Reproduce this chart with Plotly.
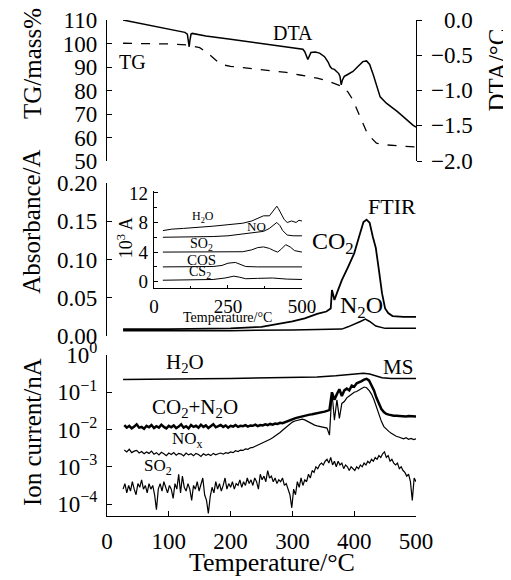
import plotly.graph_objects as go

FONT = "Liberation Serif, Times New Roman, serif"

# ---------------- TG / DTA (top panel) ----------------
T_tg = [26, 60, 100, 129, 140, 150, 160, 172, 180, 188, 200, 231, 260, 290, 312,
        340, 361, 375, 382, 390, 398, 406, 414, 420, 426, 436, 445, 460, 480, 500]
tg = [100.1, 100.0, 99.8, 99.4, 98.9, 98.2, 96.5, 93.8, 92.1, 90.9, 90.3, 89.4, 88.6, 87.7, 86.6,
      85.3, 83.7, 82.5, 81.6, 79.3, 76.0, 71.0, 66.0, 62.5, 60.3, 57.6, 57.0, 56.6, 56.3, 56.0]

T_dta = [26, 60, 100, 126, 130, 132, 133, 134, 136, 138, 160, 200, 250, 300, 317, 320, 323, 325,
         327, 330, 337, 344, 352, 358, 361, 364, 368, 372, 375, 377, 379, 381, 384, 388, 398, 406,
         414, 420, 425, 431, 437, 442, 452, 470, 495, 500]
dta = [0.0, -0.06, -0.13, -0.175, -0.2, -0.3, -0.38, -0.3, -0.2, -0.19, -0.226, -0.274, -0.334,
       -0.394, -0.415, -0.45, -0.53, -0.56, -0.52, -0.46, -0.455, -0.47, -0.52, -0.6, -0.66, -0.69,
       -0.7, -0.73, -0.76, -0.8, -0.92, -0.85, -0.8, -0.78, -0.73, -0.66, -0.59, -0.58, -0.63, -0.78,
       -0.95, -1.09, -1.18, -1.3, -1.49, -1.52]

# ---------------- FTIR (middle panel) ----------------
T_co2 = [26, 100, 200, 250, 300, 320, 340, 355, 362, 364, 366, 368, 372, 380, 390, 400, 408,
         415, 420, 425, 430, 435, 440, 445, 450, 455, 462, 480, 500]
co2 = [0.009, 0.009, 0.010, 0.012, 0.019, 0.023, 0.029, 0.032, 0.036, 0.060, 0.054, 0.047, 0.056,
       0.073, 0.090, 0.108, 0.130, 0.149, 0.152, 0.148, 0.130, 0.115, 0.086, 0.056, 0.036, 0.030,
       0.026, 0.025, 0.025]

T_n2o = [26, 100, 200, 300, 380, 390, 400, 410, 418, 425, 435, 450, 470, 500]
n2o = [0.007, 0.007, 0.007, 0.008, 0.009, 0.012, 0.015, 0.019, 0.022, 0.019, 0.013, 0.010, 0.010, 0.010]

# ---------------- inset (10^3 A) ----------------
T_in_h2o = [30, 60, 100, 150, 200, 250, 300, 330, 350, 370, 390, 400, 410, 415, 420, 430, 440,
            450, 465, 480, 490, 500]
in_h2o = [6.9, 7.1, 7.2, 7.3, 7.5, 7.7, 7.9, 8.2, 8.6, 8.9, 8.9, 9.4, 10.0, 10.2, 9.9, 9.1, 8.4,
          8.0, 8.2, 8.0, 8.3, 8.2]
T_in_no = [30, 100, 200, 250, 300, 330, 350, 370, 390, 405, 415, 425, 435, 450, 470, 500]
in_no = [6.0, 6.0, 6.1, 6.2, 6.45, 6.55, 6.6, 6.8, 7.2, 7.7, 8.0, 7.6, 6.9, 6.3, 6.2, 6.2]
T_in_so2 = [30, 100, 200, 300, 330, 350, 370, 390, 405, 418, 430, 445, 460, 475, 500]
in_so2 = [4.0, 4.0, 4.0, 4.05, 4.3, 4.6, 4.7, 4.5, 4.2, 4.0, 4.4, 5.0, 4.7, 4.2, 4.0]
T_in_cos = [30, 100, 200, 230, 250, 275, 295, 310, 350, 400, 500]
in_cos = [2.0, 2.0, 2.05, 2.2, 2.5, 2.6, 2.3, 2.05, 2.0, 2.0, 2.0]
T_in_cs2 = [30, 100, 200, 240, 270, 290, 310, 350, 400, 450, 500]
in_cs2 = [0.2, 0.25, 0.3, 0.5, 0.75, 0.6, 0.4, 0.45, 0.5, 0.35, 0.3]

# ---------------- MS (bottom panel), log10 of ion current / nA ----------------
T_ms_h2o = [26, 60, 100, 150, 200, 250, 300, 340, 370, 390, 405, 415, 425, 435, 445, 460, 480, 500]
ms_h2o_exp = [-0.66, -0.65, -0.65, -0.64, -0.63, -0.62, -0.61, -0.59, -0.56, -0.53, -0.50, -0.49,
              -0.51, -0.56, -0.61, -0.63, -0.63, -0.63]

ms_co2_exp = [  # T = 28, 32, ... 500
    -1.88, -1.95, -1.90, -1.97, -1.92, -1.86, -1.95, -1.93, -1.98, -1.90,
    -1.94, -1.88, -1.96, -1.91, -1.95, -1.87, -1.93, -1.97, -1.90, -1.94,
    -1.89, -1.96, -1.92, -1.86, -1.95, -1.91, -1.97, -1.88, -1.93, -1.90,
    -1.95, -1.87, -1.93, -1.89, -1.96, -1.90, -1.86, -1.94, -1.91, -1.88,
    -1.93, -1.89, -1.95, -1.90, -1.92, -1.88, -1.93, -1.90, -1.91, -1.88,
    -1.92, -1.89, -1.90, -1.87, -1.91, -1.88, -1.89, -1.86, -1.88, -1.85,
    -1.87, -1.84, -1.85, -1.82, -1.83, -1.80, -1.79, -1.76, -1.73, -1.70,
    -1.68, -1.66, -1.64, -1.63, -1.62, -1.60, -1.59, -1.58, -1.57, -1.55,
    -1.54, -1.52, -1.50, -1.47, -1.00, -1.20, -1.05, -0.92, -1.10, -0.95,
    -0.90, -0.95, -0.82, -0.85, -0.76, -0.74, -0.70, -0.66, -0.64, -0.68,
    -0.80, -0.95, -1.15, -1.32, -1.45, -1.53, -1.58, -1.60, -1.62, -1.63,
    -1.63, -1.64, -1.63, -1.64, -1.65, -1.64, -1.65, -1.66, -1.65]

ms_nox_exp = [  # T = 28, 32, ... 500
    -2.55, -2.60, -2.53, -2.62, -2.58, -2.56, -2.63, -2.59, -2.65, -2.60,
    -2.64, -2.58, -2.66, -2.62, -2.68, -2.61, -2.65, -2.70, -2.63, -2.67,
    -2.62, -2.69, -2.64, -2.66, -2.71, -2.63, -2.68, -2.65, -2.70, -2.64,
    -2.67, -2.72, -2.65, -2.69, -2.66, -2.70, -2.64, -2.68, -2.65, -2.63,
    -2.66, -2.62, -2.64, -2.60, -2.62, -2.57, -2.59, -2.55, -2.56, -2.52,
    -2.53, -2.49, -2.48, -2.45, -2.43, -2.40, -2.36, -2.33, -2.30, -2.26,
    -2.22, -2.18, -2.12, -2.08, -2.02, -1.96, -1.90, -1.84, -1.80, -1.77,
    -1.75, -1.73, -1.72, -1.74, -1.78, -1.82, -1.85, -1.88, -1.90, -1.92,
    -1.93, -1.95, -1.96, -2.15, -1.00, -1.75, -1.20, -1.70, -1.30, -1.25,
    -1.15, -1.10, -1.05, -1.00, -0.98, -0.95, -0.90, -0.86, -0.88, -0.95,
    -1.05, -1.20, -1.40, -1.60, -1.78, -1.92, -2.00, -2.05, -2.10, -2.15,
    -2.18, -2.20, -2.22, -2.25, -2.22, -2.26, -2.24, -2.27, -2.25]

ms_so2_exp = [  # T = 26, 29, ... 500
    -3.60, -3.45, -3.70, -3.50, -3.65, -3.40, -3.60, -3.75, -3.45, -3.55,
    -3.35, -3.60, -3.50, -3.70, -3.45, -3.60, -3.50, -3.75, -4.15, -3.60,
    -3.45, -3.65, -3.40, -3.55, -3.70, -3.50, -3.60, -3.85, -3.45, -3.60,
    -3.20, -3.70, -3.25, -3.55, -3.65, -3.45, -3.60, -3.90, -3.50, -3.60,
    -3.40, -3.65, -3.50, -3.30, -3.75, -3.90, -4.25, -3.80, -3.55, -3.70,
    -3.40, -3.60, -3.45, -3.65, -3.50, -3.30, -3.60, -3.45, -3.55, -3.40,
    -3.60, -3.45, -3.50, -3.35, -3.55, -3.40, -3.50, -3.30, -3.45, -3.35,
    -3.50, -3.30, -3.40, -3.60, -3.20, -3.35, -3.25, -3.40, -3.10, -3.30,
    -3.25, -3.40, -3.30, -3.45, -3.35, -3.40, -3.30, -3.50, -3.45, -3.60,
    -3.75, -4.10, -3.60, -3.75, -3.40, -3.55, -3.30, -3.50, -3.35, -3.40,
    -3.20, -3.30, -3.10, -3.15, -3.00, -3.05, -2.95, -2.90, -2.95, -2.85,
    -2.80, -2.90, -2.75, -2.95, -2.85, -3.00, -2.85, -2.95, -2.90, -3.05,
    -2.95, -3.00, -3.10, -3.00, -3.05, -3.10, -3.00, -3.05, -2.95, -3.00,
    -2.90, -2.95, -2.85, -2.90, -2.80, -2.85, -2.75, -2.80, -2.70, -2.75,
    -2.65, -2.60, -2.75, -2.70, -2.85, -2.80, -2.90, -2.95, -2.90, -3.05,
    -3.00, -3.10, -3.15, -3.25, -3.20, -3.40, -3.90, -3.30, -3.40]

T_ms4 = [28 + 4 * i for i in range(len(ms_co2_exp))]
T_ms3 = [26 + 3 * i for i in range(len(ms_so2_exp))]

x_ticks = [0, 100, 200, 300, 400, 500]
tg_ticks = [50, 60, 70, 80, 90, 100, 110]
dta_ticks = [0.0, -0.5, -1.0, -1.5, -2.0]
dta_ticktext = ["0.0", "\u22120.5", "\u22121.0", "\u22121.5", "\u22122.0"]
abs_ticks = [0.0, 0.05, 0.10, 0.15, 0.20]
abs_ticktext = ["0.00", "0.05", "0.10", "0.15", "0.20"]
ion_ticks = [1, 0.1, 0.01, 0.001, 0.0001]
ion_ticktext = ["10<sup>0</sup>", "10<sup>\u22121</sup>", "10<sup>\u22122</sup>",
                "10<sup>\u22123</sup>", "10<sup>\u22124</sup>"]
inset_yticks = [0, 4, 8, 12]
inset_xticks = [0, 250, 500]

fig = go.Figure()
blk = "black"

# top panel
fig.add_trace(go.Scatter(x=T_tg, y=tg, xaxis="x3", yaxis="y3", mode="lines",
                         line=dict(color=blk, width=1.3, dash="dash")))
fig.add_trace(go.Scatter(x=T_dta, y=dta, xaxis="x3", yaxis="y4", mode="lines",
                         line=dict(color=blk, width=1.5)))
# middle panel
fig.add_trace(go.Scatter(x=T_co2, y=co2, xaxis="x2", yaxis="y2", mode="lines",
                         line=dict(color=blk, width=1.8)))
fig.add_trace(go.Scatter(x=T_n2o, y=n2o, xaxis="x2", yaxis="y2", mode="lines",
                         line=dict(color=blk, width=1.5)))
# inset
for tx, vy in [(T_in_h2o, in_h2o), (T_in_no, in_no), (T_in_so2, in_so2),
               (T_in_cos, in_cos), (T_in_cs2, in_cs2)]:
    fig.add_trace(go.Scatter(x=tx, y=vy, xaxis="x4", yaxis="y5", mode="lines",
                             line=dict(color=blk, width=1)))
# bottom panel
fig.add_trace(go.Scatter(x=T_ms_h2o, y=[10 ** e for e in ms_h2o_exp], xaxis="x", yaxis="y",
                         mode="lines", line=dict(color=blk, width=1.5)))
fig.add_trace(go.Scatter(x=T_ms4, y=[10 ** e for e in ms_nox_exp], xaxis="x", yaxis="y",
                         mode="lines", line=dict(color=blk, width=1.2)))
fig.add_trace(go.Scatter(x=T_ms4, y=[10 ** e for e in ms_co2_exp], xaxis="x", yaxis="y",
                         mode="lines", line=dict(color=blk, width=2.5)))
fig.add_trace(go.Scatter(x=T_ms3, y=[10 ** e for e in ms_so2_exp], xaxis="x", yaxis="y",
                         mode="lines", line=dict(color=blk, width=1.2)))

tickfont = dict(family=FONT, size=23, color=blk)
common = dict(showgrid=False, zeroline=False, showline=True, linecolor=blk, linewidth=1.3,
              tickcolor=blk, tickwidth=1.3, ticklen=5, ticks="inside", tickfont=tickfont,
              automargin=False)

# the page body adds an 8 px offset, so the figure is 8 px smaller and margins shifted
fig.update_layout(
    width=503, height=572, margin=dict(l=99, r=95, t=12, b=64),
    paper_bgcolor="white", plot_bgcolor="rgba(0,0,0,0)", showlegend=False,
    xaxis=dict(domain=[0, 1], anchor="y", range=[0, 500], tickvals=x_ticks,
               ticklabelstandoff=4, **common),
    yaxis=dict(domain=[0, 0.3246], anchor="x", type="log", range=[-4.32, 0],
               tickvals=ion_ticks, ticktext=ion_ticktext, ticklabelstandoff=4, **common),
    xaxis2=dict(domain=[0, 1], anchor="y2", range=[0, 500], visible=False, automargin=False),
    yaxis2=dict(domain=[0.3629, 0.6714], anchor="x2", range=[0, 0.2],
                tickvals=abs_ticks, ticktext=abs_ticktext, ticklabelstandoff=4, **common),
    xaxis3=dict(domain=[0, 1], anchor="y3", range=[0, 500], visible=False, automargin=False),
    yaxis3=dict(domain=[0.7157, 1.0], anchor="x3", range=[50, 110],
                tickvals=tg_ticks, ticklabelstandoff=4, **common),
    yaxis4=dict(overlaying="y3", anchor="x3", side="right", range=[-2, 0],
                showgrid=False, zeroline=False, showline=True, linecolor=blk, linewidth=1.3,
                ticks="outside", ticklen=5, tickcolor=blk, tickwidth=1.3,
                tickvals=dta_ticks, showticklabels=False, automargin=False),
    xaxis4=dict(domain=[0.152, 0.631], anchor="y5", range=[0, 500], tickvals=inset_xticks,
                showgrid=False, zeroline=False, showline=True, linecolor=blk, linewidth=1.2,
                ticks="inside", ticklen=3, tickcolor=blk, tickwidth=1, automargin=False,
                tickfont=dict(family=FONT, size=19, color=blk), ticklabelstandoff=1,
                minor=dict(ticks="inside", ticklen=2, tickcolor=blk, dtick=125)),
    yaxis5=dict(domain=[0.4597, 0.6552], anchor="x4", range=[-0.85, 12.25],
                tickvals=inset_yticks, automargin=False,
                showgrid=False, zeroline=False, showline=True, linecolor=blk, linewidth=1.2,
                ticks="inside", ticklen=4, tickcolor=blk, tickwidth=1,
                tickfont=dict(family=FONT, size=19, color=blk), ticklabelstandoff=1,
                minor=dict(ticks="inside", ticklen=3, tickcolor=blk, tickvals=[2, 6, 10])),
)


def ann(text, x, y, size, xref="paper", yref="paper", angle=0, xanchor="center", yanchor="middle"):
    fig.add_annotation(text=text, x=x, y=y, xref=xref, yref=yref, showarrow=False,
                       textangle=angle, xanchor=xanchor, yanchor=yanchor,
                       font=dict(family=FONT, size=size, color=blk))


# right axis tick labels (right-aligned)
for v, t in zip(dta_ticks, dta_ticktext):
    ann(t, 1.191, v, 23, yref="y4", xanchor="right")

# axis titles
ann("TG/mass%", -0.243, 0.913, 25, angle=-90)
ann("Absorbance/A", -0.243, 0.593, 25, angle=-90)
ann("Ion current/nA", -0.243, 0.169, 25, angle=-90)
ann("DTA/°C", 1.265, 0.900, 25, angle=-90)
ann("Temperature/°C", 0.534, -0.093, 26)
ann("10<sup>3</sup> A", 0.058, 0.562, 18, angle=-90)
ann("Temperature/°C", 0.39, 0.40, 14)

# curve labels
ann("DTA", 0.602, 0.974, 20)
ann("TG", 0.084, 0.915, 20)
ann("FTIR", 0.922, 0.625, 22)
ann("CO<sub>2</sub>", 0.731, 0.550, 24)
ann("N<sub>2</sub>O", 0.825, 0.421, 24)
ann("H<sub>2</sub>O", 0.252, 0.308, 21)
ann("MS", 0.942, 0.300, 21)
ann("CO<sub>2</sub>+N<sub>2</sub>O", 0.285, 0.218, 21)
ann("NO<sub>x</sub>", 0.259, 0.153, 17)
ann("SO<sub>2</sub>", 0.165, 0.099, 17)

# inset labels
ann("H<sub>2</sub>O", 165, 8.7, 12, xref="x4", yref="y5")
ann("NO", 348, 7.4, 13, xref="x4", yref="y5")
ann("SO<sub>2</sub>", 162, 5.0, 14, xref="x4", yref="y5")
ann("COS", 162, 2.9, 15, xref="x4", yref="y5")
ann("CS<sub>2</sub>", 155, 1.2, 14, xref="x4", yref="y5")

fig.write_html("out.html")
